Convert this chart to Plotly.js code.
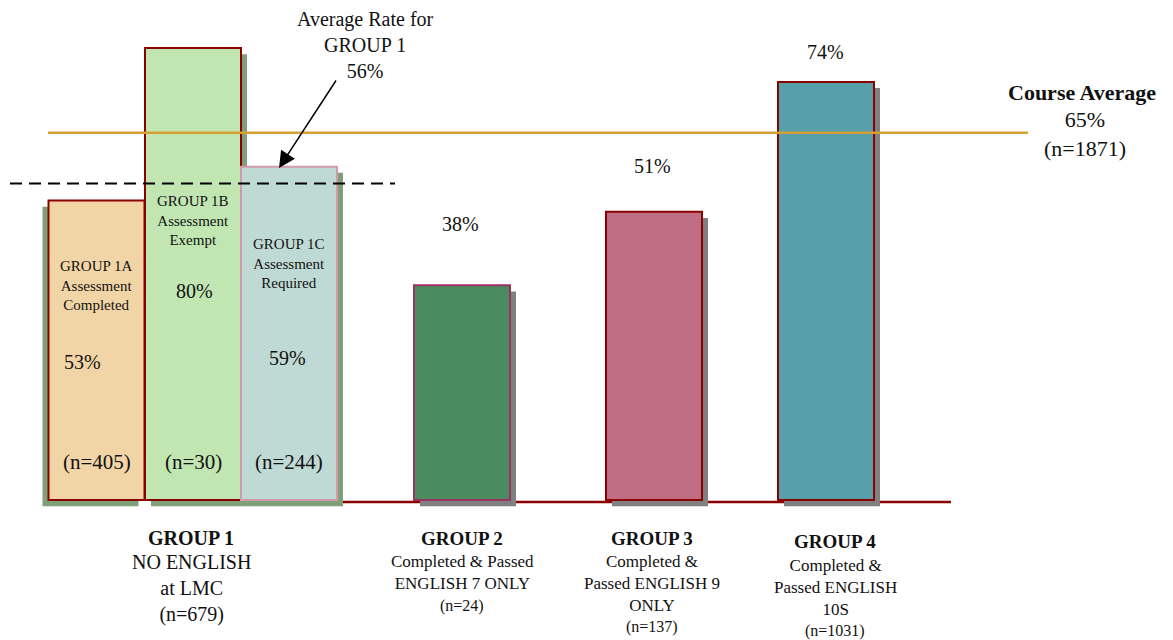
<!DOCTYPE html>
<html>
<head>
<meta charset="utf-8">
<script src="https://cdn.plot.ly/plotly-3.0.1.min.js"></script>
<style>html,body{margin:0;padding:0;background:#fff}#chart{width:1173px;height:640px}</style>
</head>
<body>
<div id="chart"></div>
<script>
// ---- data ----
const categories = ['GROUP 1A', 'GROUP 1B', 'GROUP 1C', 'GROUP 2', 'GROUP 3', 'GROUP 4'];
const subLabels = ['Assessment<br>Completed', 'Assessment<br>Exempt', 'Assessment<br>Required'];
const rates = [53, 80, 59, 38, 51, 74];
const counts = [405, 30, 244, 24, 137, 1031];
const groupTitles = ['GROUP 1', 'GROUP 2', 'GROUP 3', 'GROUP 4'];
const groupDescriptions = ['NO ENGLISH<br>at LMC', 'Completed & Passed<br>ENGLISH 7 ONLY', 'Completed &<br>Passed ENGLISH 9<br>ONLY', 'Completed &<br>Passed ENGLISH<br>10S'];
const groupCounts = [679, 24, 137, 1031];
const group1Average = 56;
const courseAverage = 65;
const courseCount = 1871;

// ---- layout / style config ----
const W = 1173, H = 640;
const xPos = [96.5, 193, 289, 462, 654, 826];
const barWidth = 96;
const fills = ['#f2d5a7', '#c1e6b1', '#bfdad4', '#4a8c60', '#c06e83', '#589fac'];
const borders = ['#8b0000', '#8b0000', '#d29aaa', '#9a3262', '#8b0000', '#8b0000'];
const shadowColors = ['#7f9f78', '#7f9f78', '#7f9f78', '#808080', '#808080', '#808080'];
const shadowDx = [-6, 6, 6, 6, 6, 6];
const pxPerUnit = 5.65;
const zeroPx = 500;
const yMax = zeroPx / pxPerUnit;
const yMin = yMax - H / pxPerUnit;
const serif = '"Liberation Serif", "Times New Roman", serif';
const px = v => v / W;           // x pixel -> paper
const py = v => 1 - v / H;       // y pixel -> paper

const shadowTrace = {
  type: 'bar',
  x: xPos.map((x, i) => x + shadowDx[i]),
  y: rates,
  base: rates.map(() => -1.1),
  width: barWidth,
  marker: {color: shadowColors, line: {width: 0}},
  hoverinfo: 'skip'
};
const barTrace = {
  type: 'bar',
  x: xPos,
  y: rates,
  base: 0,
  width: barWidth,
  marker: {color: fills, line: {color: borders, width: 2}},
  hoverinfo: 'skip'
};

const annotations = [];
function ann(text, x, y, size, extra) {
  annotations.push(Object.assign({
    text: text, xref: 'paper', yref: 'paper', x: px(x), y: py(y),
    xanchor: 'center', yanchor: 'middle', showarrow: false,
    font: {family: serif, size: size, color: '#111'}
  }, extra || {}));
}

// Group 1 inner labels
const subY = [285, 220, 263];
const pctPos = [[82, 362], [194, 291], [287, 358]];
for (let i = 0; i < 3; i++) {
  ann(categories[i] + '<br>' + subLabels[i], xPos[i], subY[i], 15);
  ann(rates[i] + '%', pctPos[i][0], pctPos[i][1], 20);
  ann('(n=' + counts[i] + ')', xPos[i], 462, 21);
}
// Groups 2-4 value labels
ann(rates[3] + '%', 460, 224, 20);
ann(rates[4] + '%', 652, 166, 20);
ann(rates[5] + '%', 825, 52, 20);

// Group axis labels
ann('<b>' + groupTitles[0] + '</b>', 191, 538, 20);
ann(groupDescriptions[0] + '<br>(n=' + groupCounts[0] + ')', 191, 588, 20);
ann('<b>' + groupTitles[1] + '</b>', 462, 538, 19);
ann(groupDescriptions[1], 462, 572, 17);
ann('(n=' + groupCounts[1] + ')', 462, 606, 16);
ann('<b>' + groupTitles[2] + '</b>', 652, 538, 19);
ann(groupDescriptions[2], 652, 583, 17);
ann('(n=' + groupCounts[2] + ')', 652, 627, 16);
ann('<b>' + groupTitles[3] + '</b>', 835, 541, 19);
ann(groupDescriptions[3], 835, 587, 17);
ann('(n=' + groupCounts[3] + ')', 835, 631, 16);

// Course average label
ann('<b>Course Average</b>', 1082, 92, 22);
ann(courseAverage + '%<br>(n=' + courseCount + ')', 1085, 134, 22);

// Group 1 average label + arrow
ann('Average Rate for<br>GROUP 1<br>' + group1Average + '%', 365, 45, 20);
annotations.push({
  text: '', xref: 'x', yref: 'paper', x: 279, y: py(168),
  axref: 'pixel', ayref: 'pixel', ax: 58, ay: -89,
  showarrow: true, arrowhead: 2, arrowsize: 2.2, arrowwidth: 1.5, arrowcolor: '#000'
});

const shapes = [
  {type: 'line', xref: 'x', yref: 'y', x0: 247, x1: 951, y0: -0.35, y1: -0.35,
   line: {color: '#8b0000', width: 2.5}, layer: 'below'},
  {type: 'line', xref: 'x', yref: 'y', x0: 48, x1: 1028, y0: courseAverage, y1: courseAverage,
   line: {color: '#d4a033', width: 2.5}, layer: 'above'},
  {type: 'line', xref: 'x', yref: 'y', x0: 10, x1: 395, y0: group1Average, y1: group1Average,
   line: {color: '#000', width: 2, dash: '12px,7px'}, layer: 'above'}
];

const layout = {
  width: W, height: H,
  margin: {l: 0, r: 0, t: 0, b: 0},
  paper_bgcolor: '#fff', plot_bgcolor: '#fff',
  showlegend: false,
  barmode: 'overlay',
  xaxis: {range: [0, W], visible: false, fixedrange: true},
  yaxis: {range: [yMin, yMax], visible: false, fixedrange: true},
  annotations: annotations,
  shapes: shapes
};

Plotly.newPlot('chart', [shadowTrace, barTrace], layout, {displayModeBar: false, staticPlot: true});
</script>
</body>
</html>
